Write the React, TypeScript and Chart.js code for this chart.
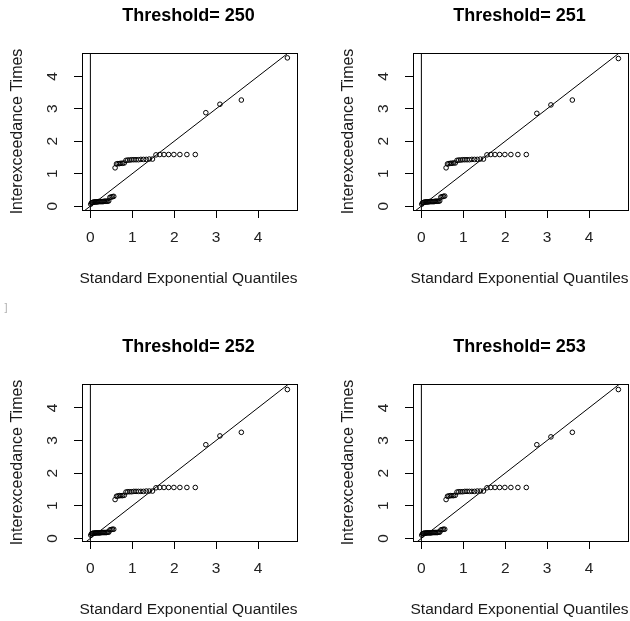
import React, { useEffect, useRef } from 'react';
import { Chart, registerables } from 'chart.js';

Chart.register(...registerables);

// ---- data ----
const thresholds = [250, 251, 252, 253];

// standard exponential quantiles (x axis), shared by all panels
const expQuantiles = [
  0.0091, 0.0277, 0.0465, 0.0658, 0.0854, 0.1054, 0.1258, 0.1466, 0.1679, 0.1896,
  0.2118, 0.2346, 0.2578, 0.2817, 0.3061, 0.3311, 0.3567, 0.383, 0.41, 0.4378,
  0.4664, 0.4958, 0.5261, 0.5573, 0.5896, 0.6229, 0.6574, 0.6931, 0.7302, 0.7686,
  0.8086, 0.8502, 0.8938, 0.9393, 0.9869, 1.0369, 1.0896, 1.1452, 1.204, 1.2665,
  1.3331, 1.4044, 1.4816, 1.5649, 1.6559, 1.756, 1.8673, 1.9924, 2.1353, 2.3026,
  2.5033, 2.7546, 3.091, 3.6019, 4.7005,
];

const times250 = [
  0.06,
  0.10, 0.11, 0.12, 0.12, 0.13, 0.13, 0.13, 0.13, 0.14, 0.14, 0.14, 0.14, 0.14, 0.14, 0.15, 0.15, 0.15, 0.15, 0.16,
  0.27, 0.28, 0.29, 0.30,
  1.18,
  1.30, 1.31, 1.31, 1.32, 1.32, 1.33,
  1.41, 1.42, 1.42, 1.43, 1.43, 1.43, 1.43, 1.44, 1.44, 1.44, 1.45, 1.45,
  1.58, 1.59, 1.59, 1.59, 1.59, 1.59, 1.59, 1.59,
  2.88, 3.14, 3.27, 4.57,
];

const times251 = [
  0.06,
  0.10, 0.11, 0.12, 0.12, 0.13, 0.13, 0.13, 0.13, 0.14, 0.14, 0.14, 0.14, 0.14, 0.14, 0.15, 0.15, 0.15, 0.15, 0.16,
  0.28, 0.29, 0.30, 0.31,
  1.18,
  1.30, 1.31, 1.32, 1.32, 1.33, 1.33,
  1.41, 1.42, 1.42, 1.43, 1.43, 1.43, 1.43, 1.44, 1.44, 1.44, 1.45, 1.45,
  1.58, 1.59, 1.59, 1.59, 1.59, 1.59, 1.59, 1.59,
  2.86, 3.12, 3.27, 4.55,
];

const times252 = [
  0.10,
  0.14, 0.15, 0.16, 0.16, 0.16, 0.17, 0.17, 0.17, 0.17, 0.17, 0.17, 0.18, 0.18, 0.18, 0.18, 0.18, 0.18, 0.19, 0.19,
  0.26, 0.27, 0.28, 0.28,
  1.19,
  1.29, 1.30, 1.31, 1.31, 1.31, 1.32,
  1.42, 1.43, 1.43, 1.43, 1.44, 1.44, 1.44, 1.44, 1.44, 1.45, 1.45, 1.45,
  1.55, 1.56, 1.56, 1.56, 1.56, 1.56, 1.56, 1.56,
  2.87, 3.14, 3.25, 4.56,
];

const times253 = [
  0.10,
  0.14, 0.15, 0.16, 0.16, 0.16, 0.17, 0.17, 0.17, 0.17, 0.17, 0.17, 0.18, 0.18, 0.18, 0.18, 0.18, 0.18, 0.19, 0.19,
  0.26, 0.27, 0.28, 0.28,
  1.19,
  1.29, 1.30, 1.31, 1.31, 1.31, 1.32,
  1.42, 1.43, 1.43, 1.43, 1.44, 1.44, 1.44, 1.44, 1.44, 1.45, 1.45, 1.45,
  1.55, 1.56, 1.56, 1.56, 1.56, 1.56, 1.56, 1.56,
  2.87, 3.11, 3.25, 4.56,
];

const panelTimes = [times250, times251, times252, times253];

const xLimits = [-0.2, 4.93];
const yLimitsTopRow = [-0.12, 4.72];
const yLimitsBottomRow = [-0.08, 4.73];
const panelYLimits = [yLimitsTopRow, yLimitsTopRow, yLimitsBottomRow, yLimitsBottomRow];

// reference lines: abline(0, 1) and abline(v = 0)
const refIntercept = 0;
const refSlope = 1;
const vLineX = 0;

const titlePrefix = 'Threshold= ';
const xTitle = 'Standard Exponential Quantiles';
const yTitle = 'Interexceedance Times';

// ---- layout ----
const CELL = 331;
const panelOrigins = [
  [0, 0],
  [331, 0],
  [0, 331],
  [331, 331],
];

const FONT = '"Liberation Sans", Arial, Helvetica, sans-serif';

function makeTextPlugin(threshold: number, showArtifact: boolean) {
  return {
    id: 'rText',
    afterDraw(chart: any) {
      const { ctx, chartArea } = chart;
      const cx = (chartArea.left + chartArea.right) / 2 - 1;
      const cy = (chartArea.top + chartArea.bottom) / 2;
      ctx.save();
      // frame box
      ctx.strokeStyle = '#000';
      ctx.lineWidth = 1;
      const l = Math.round(chartArea.left - 0.5) + 0.5;
      const r = Math.round(chartArea.right - 0.5) + 0.5;
      const t = Math.round(chartArea.top - 0.5) + 0.5;
      const b = Math.round(chartArea.bottom - 0.5) + 0.5;
      ctx.strokeRect(l, t, r - l, b - t);

      ctx.fillStyle = '#000';
      ctx.textAlign = 'center';
      ctx.textBaseline = 'alphabetic';
      ctx.font = `bold 18px ${FONT}`;
      ctx.fillText(titlePrefix + threshold, cx, 20.7);

      ctx.fillStyle = '#1a1a1a';
      ctx.font = `15.5px ${FONT}`;
      ctx.fillText(xTitle, cx, 283);

      ctx.save();
      ctx.translate(22, cy);
      ctx.rotate(-Math.PI / 2);
      ctx.font = `16px ${FONT}`;
      ctx.fillText(yTitle, 0, 0);
      ctx.restore();

      if (showArtifact) {
        ctx.fillStyle = '#b0b0b0';
        ctx.font = `11px ${FONT}`;
        ctx.textAlign = 'left';
        ctx.fillText(']', 4.5, 311);
      }
      ctx.restore();
    },
  };
}

function Panel({ index }: { index: number }) {
  const ref = useRef<HTMLCanvasElement | null>(null);
  useEffect(() => {
    const canvas = ref.current;
    if (!canvas) return;
    const times = panelTimes[index];
    const yLim = panelYLimits[index];
    const points = expQuantiles.map((x, i) => ({ x, y: times[i] }));
    const lineX0 = xLimits[0] - 1;
    const lineX1 = xLimits[1] + 1;
    const diag = [
      { x: lineX0, y: refIntercept + refSlope * lineX0 },
      { x: lineX1, y: refIntercept + refSlope * lineX1 },
    ];
    const vline = [
      { x: vLineX, y: yLim[0] - 1 },
      { x: vLineX, y: yLim[1] + 1 },
    ];
    const tickFont = { family: FONT, size: 15.5 };
    const chart = new Chart(canvas, {
      type: 'scatter',
      data: {
        datasets: [
          {
            data: points,
            showLine: false,
            pointStyle: 'circle',
            pointRadius: 2.3,
            pointBorderWidth: 1,
            borderColor: '#000',
            backgroundColor: 'rgba(0,0,0,0)',
            pointHoverRadius: 2.3,
          },
          {
            data: diag,
            showLine: true,
            borderColor: '#000',
            borderWidth: 1,
            pointRadius: 0,
            pointHoverRadius: 0,
            backgroundColor: 'rgba(0,0,0,0)',
          },
          {
            data: vline,
            showLine: true,
            borderColor: '#000',
            borderWidth: 1,
            pointRadius: 0,
            pointHoverRadius: 0,
            backgroundColor: 'rgba(0,0,0,0)',
          },
        ],
      } as any,
      options: {
        responsive: false,
        animation: false,
        events: [],
        layout: { padding: { top: 53, right: 34, bottom: 0, left: 0 } },
        plugins: {
          legend: { display: false },
          tooltip: { enabled: false },
          title: { display: false },
        },
        scales: {
          x: {
            type: 'linear',
            position: 'bottom',
            min: xLimits[0],
            max: xLimits[1],
            afterFit: (s: any) => {
              s.height = 121;
            },
            ticks: {
              stepSize: 1,
              includeBounds: false,
              font: tickFont,
              color: '#222',
              padding: 10,
              maxRotation: 0,
              minRotation: 0,
            },
            grid: {
              display: true,
              drawOnChartArea: false,
              drawTicks: true,
              tickLength: 8,
              color: '#000',
              lineWidth: 1,
            },
            border: { display: true, color: '#000', width: 1 },
          },
          y: {
            type: 'linear',
            position: 'left',
            min: yLim[0],
            max: yLim[1],
            afterFit: (s: any) => {
              s.width = 82;
            },
            ticks: {
              stepSize: 1,
              includeBounds: false,
              font: tickFont,
              color: '#222',
              padding: 17,
              minRotation: 90,
              maxRotation: 90,
              crossAlign: 'center',
            },
            grid: {
              display: true,
              drawOnChartArea: false,
              drawTicks: true,
              tickLength: 8,
              color: '#000',
              lineWidth: 1,
            },
            border: { display: true, color: '#000', width: 1 },
          },
        },
      } as any,
      plugins: [makeTextPlugin(thresholds[index], index === 0)],
    });
    return () => chart.destroy();
  }, [index]);
  const [ox, oy] = panelOrigins[index];
  return (
    <canvas
      ref={ref}
      width={CELL}
      height={CELL}
      style={{ position: 'absolute', left: ox, top: oy, width: CELL, height: CELL }}
    />
  );
}

export default function App() {
  return (
    <div
      style={{
        position: 'absolute',
        left: 0,
        top: 0,
        width: 630,
        height: 621,
        overflow: 'hidden',
        background: '#fff',
      }}
    >
      {thresholds.map((_, i) => (
        <Panel key={i} index={i} />
      ))}
    </div>
  );
}
